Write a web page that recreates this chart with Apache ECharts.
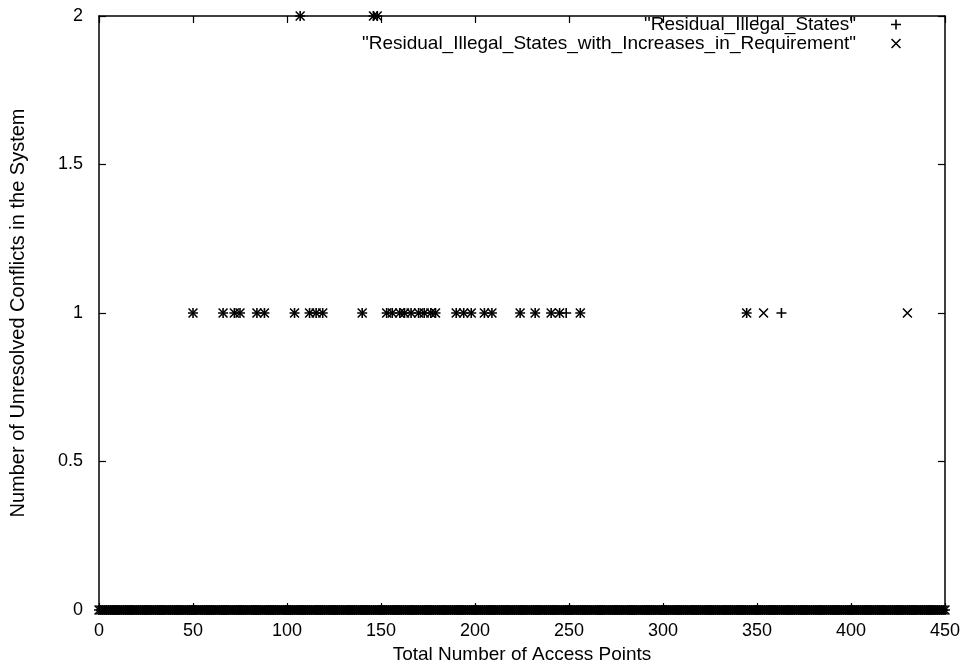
<!DOCTYPE html>
<html>
<head>
<meta charset="utf-8">
<script src="https://cdn.jsdelivr.net/npm/echarts@6/dist/echarts.min.js"></script>
<style>html,body{margin:0;padding:0;background:#fff;}#c{width:966px;height:671px;}</style>
</head>
<body>
<div id="c"></div>
<script>
// ---- data ----
const seriesNames = ['"Residual_Illegal_States"', '"Residual_Illegal_States_with_Increases_in_Requirement"'];
const xTicks = [0, 50, 100, 150, 200, 250, 300, 350, 400, 450];
const yTicks = [0, 0.5, 1, 1.5, 2];
// dense band of points at y = 0 (both series)
const zeroX = [0,1,2,3,4,5,6,7,8,9,10,11,12,13,14,15,16,17,18,19,20,21,22,23,24,25,26,27,28,29,30,31,32,33,34,35,36,37,38,39,40,41,42,43,44,45,46,47,48,49,50,51,52,53,54,55,56,57,58,59,60,61,62,63,64,65,66,67,68,69,70,71,72,73,74,75,76,77,78,79,80,81,82,83,84,85,86,87,88,89,90,91,92,93,94,95,96,97,98,99,100,101,102,103,104,105,106,107,108,109,110,111,112,113,114,115,116,117,118,119,120,121,122,123,124,125,126,127,128,129,130,131,132,133,134,135,136,137,138,139,140,141,142,143,144,145,146,147,148,149,150,151,152,153,154,155,156,157,158,159,160,161,162,163,164,165,166,167,168,169,170,171,172,173,174,175,176,177,178,179,180,181,182,183,184,185,186,187,188,189,190,191,192,193,194,195,196,197,198,199,200,201,202,203,204,205,206,207,208,209,210,211,212,213,214,215,216,217,218,219,220,221,222,223,224,225,226,227,228,229,230,231,232,233,234,235,236,237,238,239,240,241,242,243,244,245,246,247,248,249,250,251,252,253,254,255,256,257,258,259,260,261,262,263,264,265,266,267,268,269,270,271,272,273,274,275,276,277,278,279,280,281,282,283,284,285,286,287,288,289,290,291,292,293,294,295,296,297,298,299,300,301,302,303,304,305,306,307,308,309,310,311,312,313,314,315,316,317,318,319,320,321,322,323,324,325,326,327,328,329,330,331,332,333,334,335,336,337,338,339,340,341,342,343,344,345,346,347,348,349,350,351,352,353,354,355,356,357,358,359,360,361,362,363,364,365,366,367,368,369,370,371,372,373,374,375,376,377,378,379,380,381,382,383,384,385,386,387,388,389,390,391,392,393,394,395,396,397,398,399,400,401,402,403,404,405,406,407,408,409,410,411,412,413,414,415,416,417,418,419,420,421,422,423,424,425,426,427,428,429,430,431,432,433,434,435,436,437,438,439,440,441,442,443,444,445,446,447,448,449,450];
// points at y = 1 shared by both series
const oneBothX = [50,66,72,75,84,88,104,112,115.5,119,140,153,156,160,162.5,166,170,173,176.5,179,190,194,198,205,209,224,232,240.5,245,256,344.5];
const onePlusOnlyX = [248.5, 363];
const oneCrossOnlyX = [353.5, 430];
// points at y = 2 (both series)
const twoBothX = [107, 146, 148];

// ---- build series data ----
function pairs(xs, y){ return xs.map(x => [x, y]); }
const plusData = [].concat(pairs(zeroX,0), pairs(oneBothX,1), pairs(onePlusOnlyX,1), pairs(twoBothX,2));
const crossData = [].concat(pairs(zeroX,0), pairs(oneBothX,1), pairs(oneCrossOnlyX,1), pairs(twoBothX,2));

const PLUS = 'path://M4.2,0H5.8V10H4.2Z M0,4.2H10V5.8H0Z';
const CROSS = 'path://M1.1,0L10,8.9L8.9,10L0,1.1Z M8.9,0L10,1.1L1.1,10L0,8.9Z';
const FONT = '"Liberation Sans", Arial, Helvetica, sans-serif';

const chart = echarts.init(document.getElementById('c'), null, {renderer:'canvas'});
const axisCommon = {
  axisLine:{show:true, onZero:false, lineStyle:{color:'#000', width:1.5}},
  axisTick:{show:true, inside:true, length:7, lineStyle:{color:'#000', width:1.2}},
  splitLine:{show:false}
};
const legendText = {fontFamily:FONT, fontSize:19, color:'#000', padding:[0,30,0,0]};
chart.setOption({
  animation:false,
  backgroundColor:'#fff',
  grid:{left:99, right:21, top:16, bottom:61, containLabel:false, outerBoundsMode:'none'},
  legend:[
    {data:[seriesNames[0]], right:65, top:15, padding:0, align:'right', itemWidth:10, itemHeight:10, itemGap:0,
     textStyle:legendText, selectedMode:false},
    {data:[seriesNames[1]], right:65, top:34, padding:0, align:'right', itemWidth:10, itemHeight:10, itemGap:0,
     textStyle:legendText, selectedMode:false}
  ],
  xAxis:[
    Object.assign({type:'value', min:0, max:450, interval:50, position:'bottom',
      name:'Total Number of Access Points', nameLocation:'middle', nameGap:31,
      nameTextStyle:{fontFamily:FONT, fontSize:19, color:'#000'},
      axisLabel:{fontFamily:FONT, fontSize:18, color:'#000', margin:12,
        formatter: v => xTicks.indexOf(v) >= 0 ? String(v) : ''}}, axisCommon),
    Object.assign({type:'value', min:0, max:450, interval:50, position:'top', axisLabel:{show:false}}, axisCommon)
  ],
  yAxis:[
    Object.assign({type:'value', min:0, max:2, interval:0.5, position:'left',
      name:'Number of Unresolved Conflicts in the System', nameLocation:'middle', nameGap:71,
      nameTextStyle:{fontFamily:FONT, fontSize:20, color:'#000'},
      axisLabel:{fontFamily:FONT, fontSize:18, color:'#000', margin:16,
        formatter: v => yTicks.indexOf(v) >= 0 ? String(v) : ''}}, axisCommon),
    Object.assign({type:'value', min:0, max:2, interval:0.5, position:'right', axisLabel:{show:false}}, axisCommon)
  ],
  series:[
    {name:seriesNames[0], type:'scatter', xAxisIndex:0, yAxisIndex:0, data:plusData,
     symbol:PLUS, symbolSize:10, itemStyle:{color:'#000', opacity:1}, emphasis:{disabled:true}, clip:false},
    {name:seriesNames[1], type:'scatter', xAxisIndex:0, yAxisIndex:0, data:crossData,
     symbol:CROSS, symbolSize:10, itemStyle:{color:'#000', opacity:1}, emphasis:{disabled:true}, clip:false}
  ]
});
</script>
</body>
</html>
